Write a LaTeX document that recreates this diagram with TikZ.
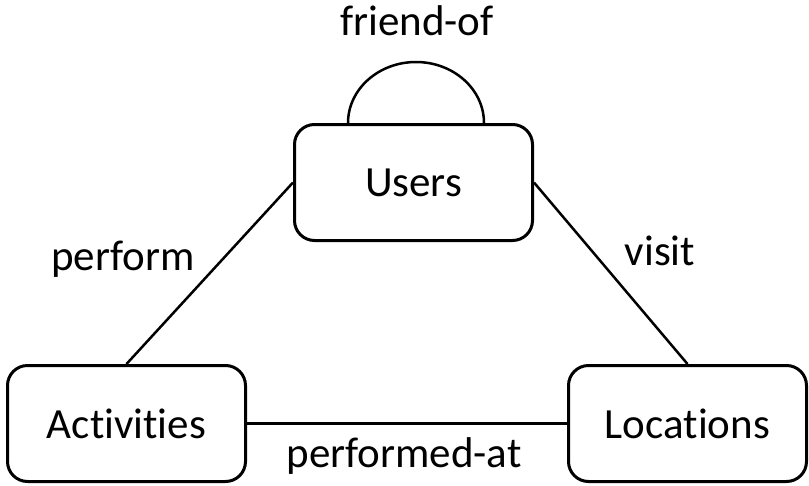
\documentclass[tikz,border=0pt]{standalone}
\usepackage{fontspec}
\setmainfont{Carlito}[Ligatures={NoCommon,NoContextual}]
\begin{document}
\begin{tikzpicture}[x=1pt,y=1pt,
  every node/.style={font=\fontsize{43}{50}\selectfont},
  entity/.style={draw, line width=3pt, rounded corners=20pt, minimum width=238pt, minimum height=116pt, inner sep=0pt},
  rel/.style={line width=2.5pt},
  lbl/.style={anchor=base, inner sep=0pt}]
\useasboundingbox (0,0) rectangle (809,-485);
\node[entity] (Users) at (413.5,-182.5) {Users};
\node[entity] (Activities) at (126.5,-423.5) {Activities};
\node[entity] (Locations) at (687.5,-423.5) {Locations};
\draw[rel] (Users.west) -- (Activities.north);
\draw[rel] (Users.east) -- (Locations.north);
\draw[rel] (Activities.east) -- (Locations.west);
\coordinate (loopL) at (348,-123);
\draw[rel] (loopL) arc[start angle=180, end angle=0, x radius=68, y radius=61];
\node[lbl] (friendof) at (417,-35) {friend-of};
\node[lbl] (perform) at (123,-270) {perform};
\node[lbl] (visit) at (660,-265) {visit};
\node[lbl] (performedat) at (404,-467) {performed-at};
\end{tikzpicture}
\end{document}
